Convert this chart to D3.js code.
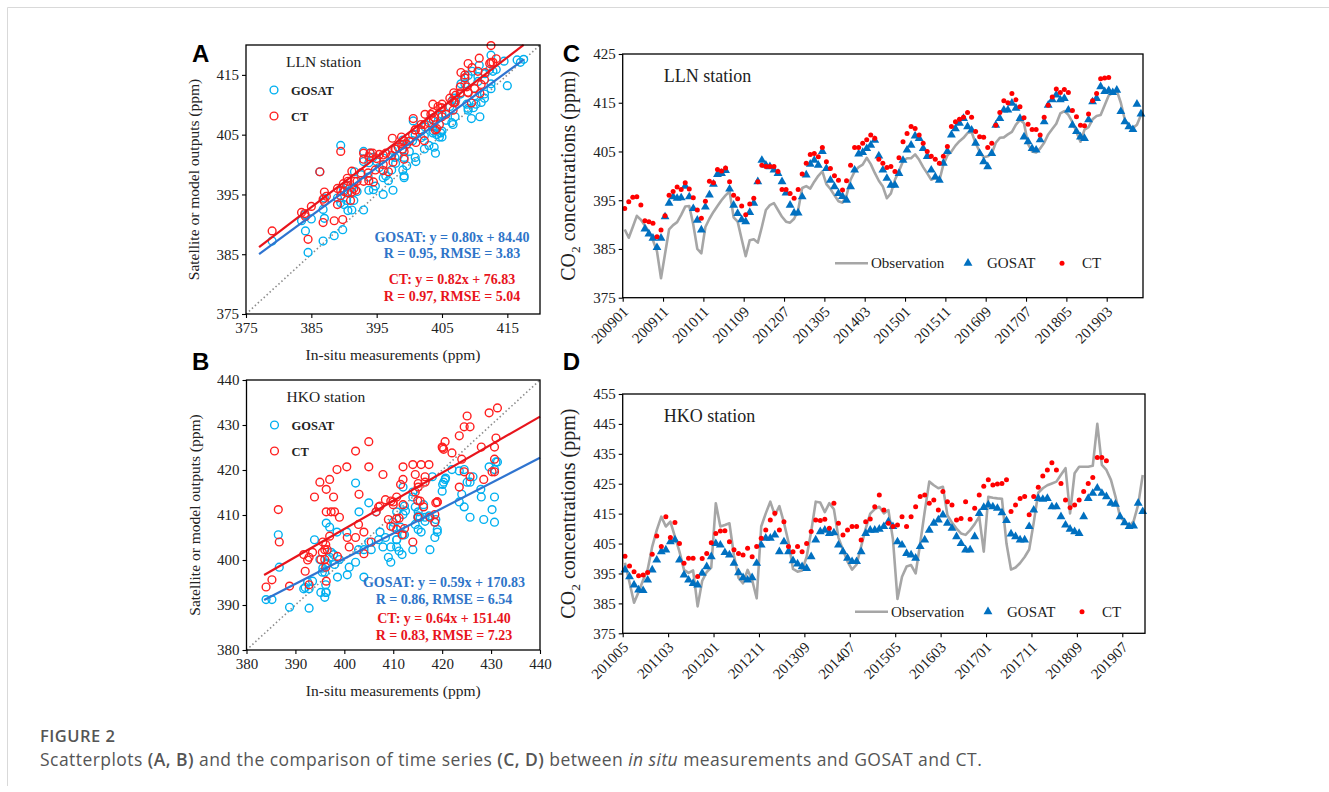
<!DOCTYPE html>
<html>
<head>
<meta charset="utf-8">
<script src="https://cdn.jsdelivr.net/npm/d3@7"></script>
<style>
  body { margin: 0; background: #fff; }
  svg { display: block; }
</style>
</head>
<body>
<div id="fig"></div>
<script>
// ---------------- data ----------------
// month categories (LLN record lacks two months in 2010)
var llnMissing = ["201004", "201005"];
var llnMonths = monthRange("200901", "201911").filter(function(m) { return llnMissing.indexOf(m) < 0; });
var hkoMonths = monthRange("201005", "201911");

// LLN station monthly CO2 (ppm)
var llnObs = [389.0, 387.3, 389.5, 391.8, 391.0, 389.8, 388.5, 386.8, 384.5, 379.0,
  384.0, 389.0, 389.9, 390.5, 392.0, 393.7, 393.8, 390.0, 385.0, 384.1,
  389.5, 391.2, 392.6, 393.8, 395.0, 396.0, 396.8, 391.5, 390.6, 387.0,
  383.5, 386.8, 387.0, 386.3, 389.5, 393.0, 394.0, 394.4, 393.0, 391.6,
  390.6, 390.4, 391.2, 393.0, 397.5, 397.9, 397.4, 398.8, 400.0, 400.9,
  398.3, 397.3, 396.0, 394.8, 394.5, 396.0, 399.2, 400.9, 401.8, 402.3,
  403.7, 402.4, 400.6, 399.0, 397.8, 395.4, 396.4, 399.2, 401.0, 403.0,
  403.6, 403.6, 404.4, 403.3, 401.8, 400.5, 399.2, 399.6, 399.0, 402.3,
  404.2, 405.0, 406.2, 407.1, 407.8, 408.8, 409.0, 406.7, 405.0, 403.8,
  404.0, 404.6, 406.8, 407.8, 407.9, 408.5, 409.0, 410.5, 411.5, 410.8,
  406.5, 405.0, 404.8, 405.6, 406.8, 408.5, 409.6, 410.7, 412.8, 413.3,
  412.5, 411.0, 409.0, 407.0, 409.5, 410.0, 411.6, 412.3, 412.5, 414.5,
  416.5, 417.0, 417.5, 415.0, 411.5, 410.2, 409.8, 410.5, 412.5];
var llnGosat = [null, null, null, null, null, 389.1, 388.1, 387.2, 385.3, 387.2,
  391.6, 394.4, 395.7, 395.4, 395.5, 397.9, 395.7, 393.3, 390.9, 388.9,
  393.6, 396.1, 398.3, 400.3, 400.5, 401.1, 397.3, 394.0, 392.3, 391.0,
  390.6, 392.5, 394.4, 398.8, 403.2, 402.2, 401.9, 401.2, 400.5, 398.8,
  396.5, 394.0, 392.4, 392.4, 395.7, 400.2, 402.4, 403.2, 402.2, 405.0,
  401.5, 399.1, 397.8, 396.4, 395.8, 395.0, 397.8, 401.2, 404.5, 404.8,
  405.6, 406.3, 407.3, 404.1, 401.2, 399.5, 398.1, 398.1, 400.5, 403.2,
  405.3, 406.3, 408.2, 407.7, 405.6, 404.0, 401.2, 399.8, 399.1, 402.6,
  405.0, 408.4, 409.7, 410.8, 411.8, 410.1, 409.4, 406.7, 404.6, 402.9,
  401.9, 404.6, 410.4, 411.8, 413.5, 413.5, 414.9, 413.9, 411.8, 408.0,
  407.0, 405.6, 405.3, 407.4, 411.1, 414.5, 415.6, 416.6, 415.6, 415.9,
  413.5, 410.4, 409.1, 408.0, 407.7, 411.5, 415.2, 415.9, 418.3, 417.3,
  417.5, 417.1, 417.6, 413.2, 411.1, 410.1, 409.5, 414.7, 412.7];
var llnCT = [393.3, 394.7, 395.6, 395.7, 394.0, 390.8, 390.6, 390.3, 387.5, 388.9,
  391.8, 396.0, 396.8, 397.7, 397.2, 398.6, 397.3, 395.5, 393.0, 391.3,
  394.8, 398.9, 398.6, 401.3, 401.0, 401.6, 398.8, 396.0, 395.3, 393.8,
  392.0, 394.2, 395.4, 398.8, 402.2, 401.9, 401.9, 401.9, 400.9, 397.2,
  397.2, 396.4, 395.4, 397.2, 400.4, 402.6, 404.4, 404.6, 403.9, 405.8,
  402.9, 401.5, 400.0, 399.1, 397.1, 399.0, 402.2, 405.8, 405.8, 406.7,
  407.4, 408.4, 407.7, 403.4, 402.6, 401.7, 401.9, 400.9, 403.7, 407.0,
  408.7, 410.1, 409.7, 408.4, 406.7, 405.0, 404.0, 403.4, 402.6, 404.0,
  406.0, 410.1, 411.1, 411.6, 412.0, 413.0, 412.0, 409.1, 408.0, 407.9,
  405.8, 406.7, 410.4, 413.0, 415.4, 415.0, 416.9, 415.6, 414.2, 411.9,
  410.6, 409.5, 409.5, 408.4, 412.0, 414.5, 416.2, 417.8, 417.1, 417.7,
  417.1, 413.4, 412.1, 410.4, 410.3, 412.7, 415.4, 416.9, 419.9, 420.1,
  420.2, null, null, null, null, null, null, null, null];

// HKO station monthly CO2 (ppm)
var hkoObs = [398.6, 392.0, 385.2, 388.8, 392.8, 396.3, 404.0, 409.5, 414.0, 410.7,
  412.3, 407.3, 402.3, 396.2, 395.2, 396.0, 384.0, 392.5, 395.5, 397.0,
  418.5, 410.7, 411.2, 411.8, 401.0, 393.5, 391.7, 396.2, 392.8, 386.7,
  410.7, 415.1, 419.0, 414.5, 417.5, 412.0, 405.5, 396.5, 395.6, 396.0,
  400.6, 409.0, 419.0, 418.7, 415.5, 418.5, 416.5, 407.0, 402.9, 399.0,
  396.3, 398.0, 404.0, 410.0, 415.0, 416.5, 417.3, 415.1, 416.2, 406.5,
  386.5, 393.9, 397.3, 397.8, 395.0, 405.0, 415.7, 425.7, 424.5, 423.5,
  424.0, 414.5, 412.0, 410.0, 408.4, 407.9, 409.5, 411.5, 414.0, 402.3,
  420.6, 420.3, 420.1, 420.0, 405.0, 396.3, 397.0, 398.5, 400.5, 403.0,
  412.0, 422.0, 423.5, 424.5, 425.1, 425.7, 428.0, 430.2, 415.1, 428.5,
  430.7, 430.7, 430.7, 431.0, 445.0, 431.3, 429.6, 426.3, 420.7, 414.0,
  412.3, 410.7, 412.5, 418.0, 427.9];
var hkoGosat = [396.2, 393.9, 391.2, 389.5, 389.3, 392.8, 396.2, 399.5, 402.3, 402.9,
  405.6, 406.2, 399.5, 394.5, 392.8, 391.7, 391.2, 395.1, 397.3, 400.6,
  405.0, 404.5, 402.0, 401.2, 398.4, 395.3, 393.6, 392.8, 393.6, 398.4,
  404.5, 406.8, 406.8, 407.9, 402.3, 405.6, 402.3, 399.3, 398.2, 397.3,
  396.7, 400.6, 406.2, 409.0, 409.5, 408.4, 408.6, 404.5, 402.3, 400.1,
  399.0, 399.0, 402.3, 408.4, 409.5, 409.5, 409.8, 410.7, 412.3, 410.7,
  405.6, 404.5, 401.7, 401.2, 400.1, 404.0, 406.2, 409.5, 411.8, 412.9,
  414.6, 411.8, 410.1, 407.3, 405.0, 402.9, 402.9, 407.3, 415.1, 417.1,
  417.9, 417.3, 416.8, 415.3, 412.7, 408.2, 407.3, 406.2, 406.2, 410.7,
  416.2, 420.1, 419.8, 420.1, 417.3, 417.3, 414.0, 411.2, 409.8, 409.0,
  408.4, 414.0, 420.1, 421.8, 423.5, 421.8, 420.7, 418.5, 418.2, 414.0,
  412.0, 410.7, 410.9, 418.5, 415.7];
var hkoCT = [400.8, 397.5, 395.6, 394.2, 394.5, 395.3, 401.4, 407.5, 404.0, 414.0,
  407.0, 412.0, 405.0, 398.4, 400.1, 400.1, 394.0, 400.0, 401.7, 405.3,
  408.4, 409.2, 409.3, 405.6, 402.9, 401.7, 401.2, 403.4, 400.6, 404.0,
  406.8, 409.5, 412.9, 415.1, 409.5, 412.3, 404.0, 402.3, 404.0, 402.3,
  405.0, 409.0, 412.9, 412.7, 413.1, 410.1, 418.5, 411.8, 407.9, 409.5,
  410.7, 410.7, 406.2, 412.3, 413.2, 417.3, 421.2, 416.2, 411.8, 410.7,
  411.2, 414.0, 410.7, 414.0, 417.3, 420.7, 421.2, 418.5, 419.6, 416.2,
  422.4, 419.0, 417.9, 412.9, 413.4, 419.0, 413.1, 416.8, 421.2, 424.2,
  426.3, 424.6, 424.9, 425.1, 426.3, 415.7, 417.9, 420.1, 420.7, 414.6,
  420.7, 423.8, 427.6, 429.6, 432.0, 429.6, 425.1, 419.6, 417.0, 417.9,
  419.6, 422.4, 425.1, 427.1, 433.8, 433.8, 432.7, null, null, null,
  null, null, null, null, null];

// fitted lines as drawn in the scatterplots: [slope, intercept], x extent
var llnFitGosat = [0.804, 81.9], llnFitCT = [0.835, 71.4], llnFitRange = [377, 417.5];
var hkoFitGosat = [0.560, 176.3], hkoFitCT = [0.624, 157.3], hkoFitRange = [383.6, 440];

// statistics printed in the scatterplots
var llnStats = ["GOSAT: y = 0.80x + 84.40", "R = 0.95, RMSE = 3.83", "CT: y = 0.82x + 76.83", "R = 0.97, RMSE = 5.04"];
var hkoStats = ["GOSAT: y = 0.59x + 170.83", "R = 0.86, RMSE = 6.54", "CT: y = 0.64x + 151.40", "R = 0.83, RMSE = 7.23"];

var llnScatterTicks = [375, 385, 395, 405, 415];
var hkoScatterTicks = [380, 390, 400, 410, 420, 430, 440];
var llnSeriesTicks = [375, 385, 395, 405, 415, 425];
var hkoSeriesTicks = [375, 385, 395, 405, 415, 425, 435, 445, 455];

function monthRange(a, b) {
  var out = [], y = +a.slice(0, 4), m = +a.slice(4);
  while (true) {
    var s = y + (m < 10 ? "0" : "") + m;
    out.push(s);
    if (s === b) break;
    m++; if (m > 12) { m = 1; y++; }
  }
  return out;
}

// ---------------- drawing ----------------
var width = 1329, height = 792;
var SERIF = "'Liberation Serif', 'Times New Roman', serif";
var BLUE_C = "#00b0f0", RED_C = "#ff1f1f", BLUE_L = "#2f74d0", RED_L = "#e8141c";
var BLUE_T = "#0070c0", GRAY = "#a6a6a6", BLUE_TXT = "#2e74c8";

var svg = d3.select("#fig").append("svg").attr("width", width).attr("height", height);
svg.append("rect").attr("width", width).attr("height", height).attr("fill", "#fff");
svg.append("path").attr("d", "M7.5,786V7.5H1329").attr("fill", "none").attr("stroke", "#d9d9d9");

function styleAxis(g) {
  g.select(".domain").remove();
  g.selectAll(".tick line").attr("stroke", "#000").attr("stroke-width", 1.1);
  g.selectAll(".tick text").attr("fill", "#222").style("font-family", SERIF).style("font-size", "15px");
}

function panelLetter(t, x, y) {
  svg.append("text").attr("x", x).attr("y", y).text(t)
    .style("font-family", "'Liberation Sans', Arial, sans-serif").style("font-weight", "bold")
    .style("font-size", "24px").attr("fill", "#000");
}

function pairs(obs, mod, dom) {
  var p = [];
  obs.forEach(function(o, i) {
    if (o != null && mod[i] != null && o >= dom[0] && o <= dom[1] && mod[i] >= dom[0] && mod[i] <= dom[1]) p.push([o, mod[i]]);
  });
  return p;
}

function scatterPanel(c) {
  var g = svg.append("g");
  var x = d3.scaleLinear().domain(c.domain).range([c.left, c.right]);
  var y = d3.scaleLinear().domain(c.domain).range([c.bottom, c.top]);

  g.append("line")
    .attr("x1", x(c.domain[0])).attr("y1", y(c.domain[0]))
    .attr("x2", x(c.domain[1])).attr("y2", y(c.domain[1]))
    .attr("stroke", "#8c8c8c").attr("stroke-width", 1.6).attr("stroke-dasharray", "1.5,2.5");

  g.append("g").selectAll("circle").data(pairs(c.obs, c.gosat, c.domain)).enter().append("circle")
    .attr("cx", function(d) { return x(d[0]); }).attr("cy", function(d) { return y(d[1]); })
    .attr("r", 3.9).attr("fill", "none").attr("stroke", BLUE_C).attr("stroke-width", 1.4);
  g.append("g").selectAll("circle").data(pairs(c.obs, c.ct, c.domain)).enter().append("circle")
    .attr("cx", function(d) { return x(d[0]); }).attr("cy", function(d) { return y(d[1]); })
    .attr("r", 3.9).attr("fill", "none").attr("stroke", RED_C).attr("stroke-width", 1.4);

  [[c.fitGosat, BLUE_L], [c.fitCT, RED_L]].forEach(function(f) {
    var line = d3.line().x(function(d) { return x(d); }).y(function(d) { return y(f[0][0] * d + f[0][1]); });
    g.append("path").attr("d", line(c.fitRange)).attr("fill", "none").attr("stroke", f[1]).attr("stroke-width", 2.2);
  });

  g.append("rect").attr("x", c.left).attr("y", c.top).attr("width", c.right - c.left).attr("height", c.bottom - c.top)
    .attr("fill", "none").attr("stroke", "#000").attr("stroke-width", 1.3);

  g.append("g").attr("transform", "translate(" + c.left + ",0)")
    .call(d3.axisLeft(y).tickValues(c.ticks).tickSize(4).tickPadding(3).tickFormat(d3.format("d"))).call(styleAxis);
  g.append("g").attr("transform", "translate(0," + c.bottom + ")")
    .call(d3.axisBottom(x).tickValues(c.ticks).tickSize(4).tickPadding(4).tickFormat(d3.format("d"))).call(styleAxis);

  g.append("text").attr("transform", "translate(" + (c.left - 47) + "," + ((c.top + c.bottom) / 2) + ") rotate(-90)")
    .attr("text-anchor", "middle").text("Satellite or model outputs (ppm)")
    .style("font-family", SERIF).style("font-size", "15.5px").attr("fill", "#222");
  g.append("text").attr("x", (c.left + c.right) / 2).attr("y", c.bottom + 46).attr("text-anchor", "middle")
    .text("In-situ measurements (ppm)").style("font-family", SERIF).style("font-size", "15.5px").attr("fill", "#222");

  g.append("text").attr("x", c.left + 40).attr("y", c.top + 22).text(c.station)
    .style("font-family", SERIF).style("font-size", "15.5px").attr("fill", "#222");
  [["GOSAT", BLUE_C, 0], ["CT", RED_C, 1]].forEach(function(l) {
    var ly = c.top + c.legendY + l[2] * 26;
    g.append("circle").attr("cx", c.left + 28).attr("cy", ly).attr("r", 3.9)
      .attr("fill", "none").attr("stroke", l[1]).attr("stroke-width", 1.4);
    g.append("text").attr("x", c.left + 45).attr("y", ly + 4.5).text(l[0])
      .style("font-family", SERIF).style("font-weight", "bold").style("font-size", "12.5px").attr("fill", "#222");
  });

  c.stats.forEach(function(s, i) {
    g.append("text").attr("x", c.statsX).attr("y", c.statsY[i]).attr("text-anchor", "middle").text(s)
      .style("font-family", SERIF).style("font-weight", "bold").style("font-size", "14px")
      .attr("fill", i < 2 ? BLUE_TXT : RED_L);
  });
}

function seriesPanel(c) {
  var g = svg.append("g");
  var n = c.months.length;
  var x = d3.scaleLinear().domain([0, n]).range([c.left, c.right]);
  var y = d3.scaleLinear().domain([c.ticks[0], c.ticks[c.ticks.length - 1]]).range([c.bottom, c.top]);
  var xc = function(i) { return x(i + 0.5); };

  var line = d3.line().defined(function(d) { return d != null; })
    .x(function(d, i) { return xc(i); }).y(function(d) { return y(d); });
  g.append("path").attr("d", line(c.obs)).attr("fill", "none").attr("stroke", GRAY)
    .attr("stroke-width", 2.6).attr("stroke-linejoin", "round");

  var tri = d3.symbol().type(d3.symbolTriangle).size(34);
  g.append("g").selectAll("path").data(c.gosat.map(function(v, i) { return [i, v]; }).filter(function(d) { return d[1] != null; }))
    .enter().append("path").attr("d", tri)
    .attr("transform", function(d) { return "translate(" + xc(d[0]) + "," + y(d[1]) + ")"; })
    .attr("fill", BLUE_T);
  g.append("g").selectAll("circle").data(c.ct.map(function(v, i) { return [i, v]; }).filter(function(d) { return d[1] != null; }))
    .enter().append("circle").attr("cx", function(d) { return xc(d[0]); }).attr("cy", function(d) { return y(d[1]); })
    .attr("r", 2.5).attr("fill", "#ff0000");

  g.append("rect").attr("x", c.left).attr("y", c.top).attr("width", c.right - c.left).attr("height", c.bottom - c.top)
    .attr("fill", "none").attr("stroke", "#000").attr("stroke-width", 1.3);

  g.append("g").attr("transform", "translate(" + c.left + ",0)")
    .call(d3.axisLeft(y).tickValues(c.ticks).tickSize(4).tickPadding(3).tickFormat(d3.format("d"))).call(styleAxis);

  var xt = d3.range(0, n, 10);
  var ax = g.append("g").attr("transform", "translate(0," + c.bottom + ")")
    .call(d3.axisBottom(x).tickValues(xt).tickSize(4).tickFormat(function(i) { return c.months[i]; })).call(styleAxis);
  ax.selectAll(".tick text").attr("text-anchor", "end").attr("dy", null)
    .attr("transform", "translate(6,15) rotate(-45)").attr("y", 0).attr("x", 0);

  var yt = g.append("text").attr("transform", "translate(" + (c.left - 48) + "," + ((c.top + c.bottom) / 2) + ") rotate(-90)")
    .attr("text-anchor", "middle").style("font-family", SERIF).style("font-size", "20px").attr("fill", "#222");
  yt.append("tspan").text("CO");
  yt.append("tspan").text("2").attr("dy", 5).style("font-size", "13.5px");
  yt.append("tspan").text(" concentrations (ppm)").attr("dy", -5);

  g.append("text").attr("x", c.left + 41).attr("y", c.top + 28).text(c.station)
    .style("font-family", SERIF).style("font-size", "18px").attr("fill", "#222");

  var ly = c.bottom - c.legendUp;
  var lx = c.legendX;
  g.append("line").attr("x1", lx).attr("x2", lx + 33).attr("y1", ly).attr("y2", ly).attr("stroke", GRAY).attr("stroke-width", 2.6);
  g.append("text").attr("x", lx + 36).attr("y", ly + 5).text("Observation")
    .style("font-family", SERIF).style("font-size", "15px").attr("fill", "#222");
  g.append("path").attr("d", tri).attr("transform", "translate(" + (lx + 133) + "," + ly + ")").attr("fill", BLUE_T);
  g.append("text").attr("x", lx + 152).attr("y", ly + 5).text("GOSAT")
    .style("font-family", SERIF).style("font-size", "15px").attr("fill", "#222");
  g.append("circle").attr("cx", lx + 227).attr("cy", ly).attr("r", 2.5).attr("fill", "#ff0000");
  g.append("text").attr("x", lx + 247).attr("y", ly + 5).text("CT")
    .style("font-family", SERIF).style("font-size", "15px").attr("fill", "#222");
}

scatterPanel({ left: 246, right: 540, top: 45, bottom: 314, domain: [375, 420], ticks: llnScatterTicks,
  obs: llnObs, gosat: llnGosat, ct: llnCT, fitGosat: llnFitGosat, fitCT: llnFitCT, fitRange: llnFitRange,
  station: "LLN station", legendY: 45, stats: llnStats, statsX: 452, statsY: [242, 258, 284, 300.5] });
scatterPanel({ left: 246.5, right: 540, top: 380, bottom: 650, domain: [380, 440], ticks: hkoScatterTicks,
  obs: hkoObs, gosat: hkoGosat, ct: hkoCT, fitGosat: hkoFitGosat, fitCT: hkoFitCT, fitRange: hkoFitRange,
  station: "HKO station", legendY: 45, stats: hkoStats, statsX: 444, statsY: [587, 604, 623, 640] });

seriesPanel({ left: 622.7, right: 1143, top: 54, bottom: 297.7, months: llnMonths, ticks: llnSeriesTicks,
  obs: llnObs, gosat: llnGosat, ct: llnCT, station: "LLN station", legendX: 835, legendUp: 34.5 });
seriesPanel({ left: 622.7, right: 1145, top: 394, bottom: 633.3, months: hkoMonths, ticks: hkoSeriesTicks,
  obs: hkoObs, gosat: hkoGosat, ct: hkoCT, station: "HKO station", legendX: 855, legendUp: 21.6 });

panelLetter("A", 192, 62);
panelLetter("B", 192, 370);
panelLetter("C", 562.7, 62);
panelLetter("D", 562.7, 370);

// caption
var CAP = "'Open Sans', 'Noto Sans', sans-serif";
svg.append("text").attr("x", 40).attr("y", 742).text("FIGURE 2")
  .style("font-family", CAP).style("font-weight", 600).style("font-size", "16.5px")
  .style("letter-spacing", "0.5px").attr("fill", "#555");
var cap = svg.append("text").attr("x", 40).attr("y", 766)
  .style("font-family", CAP).style("font-size", "17.5px").style("letter-spacing", "0.45px").attr("fill", "#555");
[["Scatterplots ", 0], ["(A, B)", 1], [" and the comparison of time series ", 0], ["(C, D)", 1],
 [" between ", 0], ["in situ", 2], [" measurements and GOSAT and CT.", 0]].forEach(function(p) {
  var t = cap.append("tspan").text(p[0]);
  if (p[1] === 1) t.style("font-weight", 600);
  if (p[1] === 2) t.style("font-style", "italic");
});
</script>
</body>
</html>
